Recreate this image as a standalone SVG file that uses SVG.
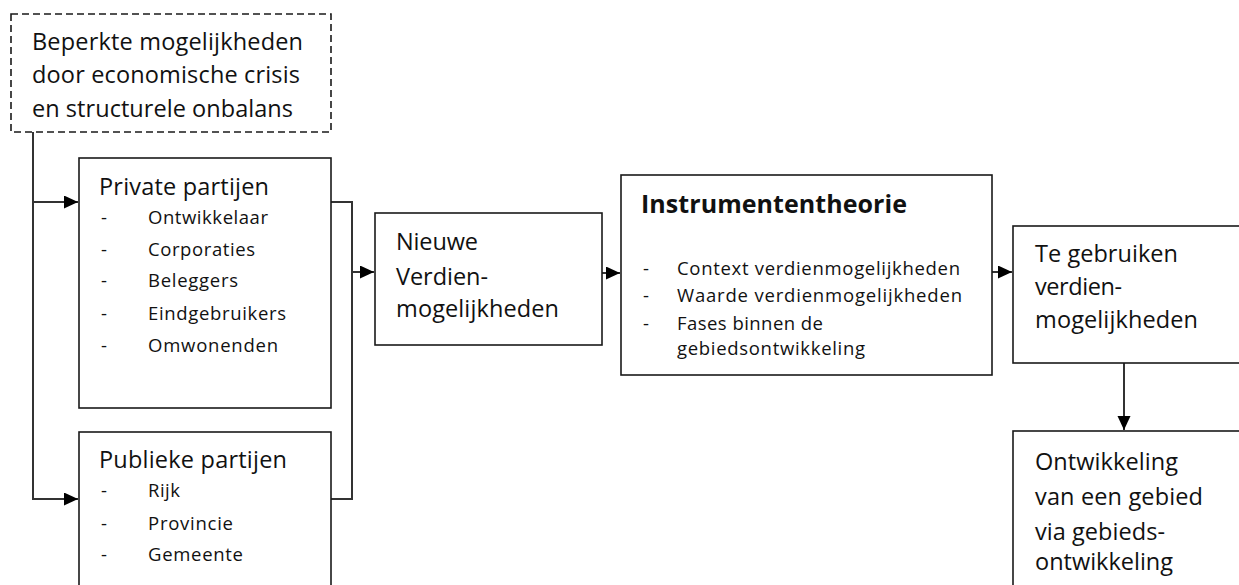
<svg xmlns="http://www.w3.org/2000/svg" width="1239" height="585" viewBox="0 0 1239 585">
  <style>
    .box { fill: #ffffff; stroke: #1a1a1a; stroke-width: 1.6; }
    .dash { fill: #ffffff; stroke: #1a1a1a; stroke-width: 1.6; stroke-dasharray: 7 4; }
    .conn { fill: none; stroke: #333333; stroke-width: 2; }
    .t { font-family: "Open Sans", "Liberation Sans", sans-serif; fill: #111111; }
    .big { font-size: 23.5px; }
    .item { font-size: 18.5px; }
    .title { font-size: 25px; font-weight: bold; }
  </style>
  <defs>
    <marker id="arrow" markerUnits="userSpaceOnUse" markerWidth="15" markerHeight="14" refX="14" refY="6.5" orient="auto">
      <path d="M0,0 L14,6.5 L0,13 Z" fill="#000000"/>
    </marker>
  </defs>

  <!-- connectors -->
  <g id="connectors">
    <path class="conn" d="M33,132 V499 H78" marker-end="url(#arrow)"/>
    <path class="conn" d="M33,202 H78" marker-end="url(#arrow)"/>
    <path class="conn" d="M331,202 H352 V499 H331"/>
    <path class="conn" d="M352,272 H374" marker-end="url(#arrow)"/>
    <path class="conn" d="M602,273 H620" marker-end="url(#arrow)"/>
    <path class="conn" d="M992,272 H1012" marker-end="url(#arrow)"/>
    <path class="conn" d="M1124,363 V430" marker-end="url(#arrow)"/>
  </g>

  <!-- crisis constraint -->
  <g id="crisis">
    <rect class="dash" x="11" y="14" width="320" height="118"/>
    <text class="t big" x="32" y="50" textLength="271">Beperkte mogelijkheden</text>
    <text class="t big" x="32" y="83" textLength="268">door economische crisis</text>
    <text class="t big" x="32" y="117" textLength="261">en structurele onbalans</text>
  </g>

  <!-- private parties -->
  <g id="private">
    <rect class="box" x="79" y="158" width="252" height="250"/>
    <text class="t big" x="99" y="195" textLength="170">Private partijen</text>
    <g class="t item">
      <text x="101" y="224">-</text><text x="148" y="224" textLength="120">Ontwikkelaar</text>
      <text x="101" y="256">-</text><text x="148" y="256" textLength="107">Corporaties</text>
      <text x="101" y="287">-</text><text x="148" y="287" textLength="90">Beleggers</text>
      <text x="101" y="320">-</text><text x="148" y="320" textLength="138">Eindgebruikers</text>
      <text x="101" y="352">-</text><text x="148" y="352" textLength="130">Omwonenden</text>
    </g>
  </g>

  <!-- public parties -->
  <g id="public">
    <rect class="box" x="79" y="432" width="252" height="170"/>
    <text class="t big" x="99" y="468" textLength="188">Publieke partijen</text>
    <g class="t item">
      <text x="101" y="497">-</text><text x="148" y="497" textLength="32">Rijk</text>
      <text x="101" y="530">-</text><text x="148" y="530" textLength="85">Provincie</text>
      <text x="101" y="561">-</text><text x="148" y="561" textLength="95">Gemeente</text>
    </g>
  </g>

  <!-- new earning opportunities -->
  <g id="nieuwe">
    <rect class="box" x="375" y="213" width="227" height="132"/>
    <text class="t big" x="396" y="250" textLength="82">Nieuwe</text>
    <text class="t big" x="396" y="285" textLength="92">Verdien-</text>
    <text class="t big" x="396" y="317" textLength="163">mogelijkheden</text>
  </g>

  <!-- instrument theory -->
  <g id="instrumenten">
    <rect class="box" x="621" y="175" width="371" height="200"/>
    <text class="t title" x="641" y="213" textLength="266">Instrumententheorie</text>
    <g class="t item">
      <text x="643" y="275">-</text><text x="677" y="275" textLength="283">Context verdienmogelijkheden</text>
      <text x="643" y="302">-</text><text x="677" y="302" textLength="285">Waarde verdienmogelijkheden</text>
      <text x="643" y="330">-</text><text x="677" y="330" textLength="146">Fases binnen de</text>
      <text x="677" y="355" textLength="188">gebiedsontwikkeling</text>
    </g>
  </g>

  <!-- opportunities to use -->
  <g id="te-gebruiken">
    <rect class="box" x="1013" y="226" width="240" height="137"/>
    <text class="t big" x="1035" y="262" textLength="143">Te gebruiken</text>
    <text class="t big" x="1035" y="295" textLength="87">verdien-</text>
    <text class="t big" x="1035" y="328" textLength="163">mogelijkheden</text>
  </g>

  <!-- area development -->
  <g id="ontwikkeling">
    <rect class="box" x="1013" y="431" width="240" height="170"/>
    <text class="t big" x="1035" y="470" textLength="143">Ontwikkeling</text>
    <text class="t big" x="1035" y="505" textLength="168">van een gebied</text>
    <text class="t big" x="1035" y="540" textLength="130">via gebieds-</text>
    <text class="t big" x="1035" y="570" textLength="138">ontwikkeling</text>
  </g>
</svg>
